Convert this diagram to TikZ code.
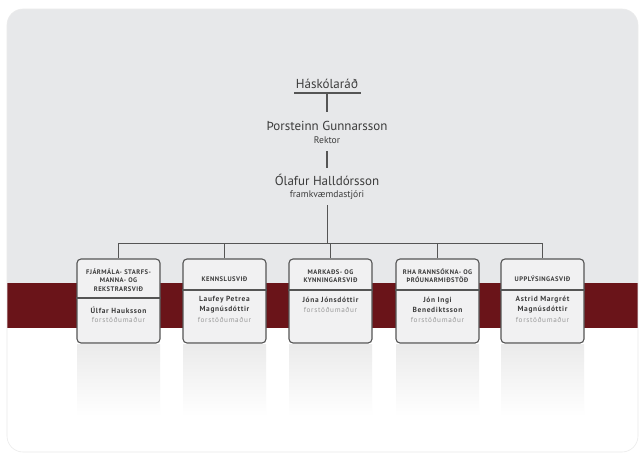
\documentclass[tikz,border=0pt]{standalone}
\usepackage{fontspec}
\setmainfont{PT Sans}
\definecolor{bgtop}{HTML}{E7E8EA}
\definecolor{band}{HTML}{6A1419}
\definecolor{ink}{HTML}{3C3C3C}
\definecolor{soft}{HTML}{999999}
\definecolor{boxfill}{HTML}{F1F1F2}
\definecolor{edge}{HTML}{555555}
\tikzset{
  conn/.style={draw=edge, line width=0.9pt},
  unit/.style={draw=edge, line width=1.1pt, fill=boxfill, rounded corners=4pt, minimum width=83pt, minimum height=84pt, inner sep=0pt},
  head/.style={font=\fontsize{6.6}{8.2}\selectfont\bfseries\addfontfeature{LetterSpace=7}, text=ink, align=center, inner sep=0pt},
  who/.style={font=\fontsize{7.4}{10}\selectfont\bfseries\addfontfeature{LetterSpace=9}, text=ink, align=center, inner sep=0pt},
  role/.style={font=\fontsize{7.2}{10}\selectfont\addfontfeature{LetterSpace=9}, text=soft, inner sep=0pt},
  big/.style={font=\fontsize{13}{15}\selectfont, text=ink, inner sep=0pt},
  small/.style={font=\fontsize{9.6}{11}\selectfont, text=ink, inner sep=0pt},
  refl/.style={top color=black!8, bottom color=white, draw=none}
}
\begin{document}
\begin{tikzpicture}[x=1pt,y=-1pt]
\useasboundingbox (0,0) rectangle (639,455);
\fill[white] (0,0) rectangle (639,455);
% background panel
\begin{scope}
\clip[rounded corners=16pt] (7,9) rectangle (638,452);
\fill[bgtop] (7,9) rectangle (638,283);
\fill[band] (7,283) rectangle (638,328);
\fill[white] (7,328) rectangle (638,452);
\end{scope}
\draw[black!8, line width=0.6pt, rounded corners=16pt] (7,9) rectangle (638,452);
% reflections
\foreach \xa in {77,183,289,396,501}{
  \shade[refl] (\xa,344) rectangle (\xa+83,416);
}
% top titles
\node[big] (hr) at (327,84) {Háskólaráð};
\coordinate (ulA) at (294,93);
\coordinate (ulB) at (361,93);
\draw[edge, line width=1.3pt] (ulA) -- (ulB);
\coordinate (ulM) at (327,93);
\node[big] (th) at (327,126) {Þorsteinn Gunnarsson};
\node[small] (rk) at (327,140) {Rektor};
\node[big] (ol) at (327,180) {Ólafur Halldórsson};
\node[small] (fk) at (327,195) {framkvæmdastjóri};
\coordinate (v1) at (327,112);
\coordinate (v2a) at (327,151);
\coordinate (v2b) at (327,168);
\coordinate (v3) at (327,205);
\draw[conn, line width=1.2pt] (ulM) -- (v1);
\draw[conn, line width=1.2pt] (v2a) -- (v2b);
\coordinate (bus) at (327,243);
\draw[conn] (v3) -- (bus);
% boxes
\node[unit] (b1) at (118.5,301) {};
\node[unit] (b2) at (224.5,301) {};
\node[unit] (b3) at (330.5,301) {};
\node[unit] (b4) at (437.5,301) {};
\node[unit] (b5) at (542.5,301) {};
\coordinate (busL) at (b1.north |- bus);
\coordinate (busR) at (b5.north |- bus);
\draw[conn] (busL) -- (busR);
\foreach \b in {b1,b2,b3,b4,b5}{
  \draw[conn] (\b.north |- bus) -- (\b.north);
}
% dividers
\draw[edge, line width=1.1pt] (b1.west |- 0,298) -- (b1.east |- 0,298);
\foreach \b in {b2,b3,b4,b5}{
  \draw[edge, line width=1.1pt] (\b.west |- 0,290) -- (\b.east |- 0,290);
}
% box texts
\node[head] (h1) at (118.5,280) {FJÁRMÁLA- STARFS-\\MANNA- OG\\REKSTRARSVIÐ};
\node[who] (n1) at (118.5,310) {Úlfar Hauksson};
\node[role] (r1) at (118.5,320) {forstöðumaður};

\node[head] (h2) at (224.5,279) {KENNSLUSVIÐ};
\node[who] (n2) at (224.5,305) {Laufey Petrea\\Magnúsdóttir};
\node[role] (r2) at (224.5,320) {forstöðumaður};

\node[head] (h3) at (330.5,276) {MARKAÐS- OG\\KYNNINGARSVIÐ};
\node[who] (n3) at (330.5,300) {Jóna Jónsdóttir};
\node[role] (r3) at (330.5,310) {forstöðumaður};

\node[head] (h4) at (437.5,276) {RHA RANNSÓKNA- OG\\ÞRÓUNARMIÐSTÖÐ};
\node[who] (n4) at (437.5,305) {Jón Ingi\\Benediktsson};
\node[role] (r4) at (437.5,320) {forstöðumaður};

\node[head] (h5) at (542.5,279) {UPPLÝSINGASVIÐ};
\node[who] (n5) at (542.5,305) {Astrid Margrét\\Magnúsdóttir};
\node[role] (r5) at (542.5,320) {forstöðumaður};
\end{tikzpicture}
\end{document}
